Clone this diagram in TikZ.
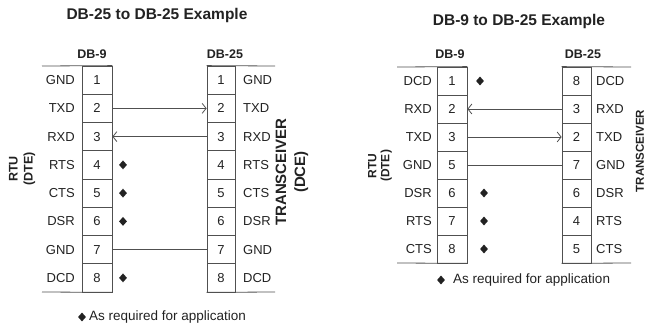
\documentclass[tikz,border=0pt]{standalone}
\usepackage{fontspec}
\setmainfont{Liberation Sans}
\usepackage{xcolor}
\usetikzlibrary{arrows.meta,shapes.geometric}
\definecolor{linegray}{HTML}{505050}
\definecolor{inkgray}{HTML}{222222}
\tikzset{
    pin-cell/.style = {draw=linegray, line width=0.75pt, rectangle, inner sep=0pt, font=\fontsize{13}{15}\selectfont, text=inkgray},
    sig-label/.style = {inner sep=0pt, font=\fontsize{13}{15}\selectfont, text=inkgray},
    plug-title/.style = {inner sep=0pt, font=\bfseries\fontsize{12.5}{14}\selectfont, text=inkgray},
    fig-title/.style = {inner sep=0pt, font=\bfseries\fontsize{15.5}{18}\selectfont, text=inkgray},
    side-label/.style = {inner sep=0pt, rotate=90, align=center, text=inkgray},
    req-diamond/.style = {diamond, fill=inkgray, inner sep=0pt, minimum width=8pt, minimum height=9pt},
    wire/.style = {draw=linegray, line width=0.8pt},
    barb/.style = {wire, -{Straight Barb[length=4pt,width=10pt]}},
}

\begin{document}
\begin{tikzpicture}[x=1pt, y=-1pt]
\useasboundingbox (0,0) rectangle (648,323);

% DB-25 to DB-25
\node[fig-title] (titleA) at (157,15) {DB-25 to DB-25 Example};
\node[plug-title] (hdrAL) at (92,54) {DB-9};
\node[plug-title] (hdrAR) at (225,54) {DB-25};
\foreach \i/\s in {1/GND,2/TXD,3/RXD,4/RTS,5/CTS,6/DSR,7/GND,8/DCD} {
    \node[pin-cell, minimum width=30pt, minimum height=28.25pt] (aL-\i) at (97,{66+28.25*(\i-0.5)}) {\i};
    \node[sig-label, anchor=east] (aLs-\i) at (75,{66+28.25*(\i-0.5)}) {\s};
    \node[pin-cell, minimum width=28pt, minimum height=28.25pt] (aR-\i) at (221,{66+28.25*(\i-0.5)}) {\i};
    \node[sig-label, anchor=west] (aRs-\i) at (243,{66+28.25*(\i-0.5)}) {\s};
}
\coordinate (aL-top) at (42,66);
\coordinate (aL-bot) at (42,292);
\coordinate (aR-top) at (275,66);
\coordinate (aR-bot) at (275,292);
\draw[wire] (aL-top) -- (aL-1.north east);
\draw[wire] (aL-bot) -- (aL-8.south east);
\draw[wire] (aR-1.north west) -- (aR-top);
\draw[wire] (aR-8.south west) -- (aR-bot);

\draw[barb] (aL-2.east) -- (aR-2.west);
\draw[barb] (aR-3.west) -- (aL-3.east);
\draw[wire] (aL-7.east) -- (aR-7.west);

\foreach \i in {4,5,6,8}
    \node[req-diamond] (aD-\i) at (123,{66+28.25*(\i-0.5)}) {};

\node[side-label, font=\bfseries\fontsize{12.5}{15}\selectfont] (aDTE) at (22,169) {RTU\\(DTE)};
\node[side-label, font=\bfseries\fontsize{15}{19}\selectfont] (aDCE) at (292,172) {TRANSCEIVER\\(DCE)};

\node[req-diamond] (aNoteD) at (82,317) {};
\node[sig-label, anchor=west, font=\fontsize{13.5}{15}\selectfont] (aNote) at (89,317) {As required for application};

% DB-9 to DB-25
\node[fig-title] (titleB) at (519,21) {DB-9 to DB-25 Example};
\node[plug-title] (hdrBL) at (450,54) {DB-9};
\node[plug-title] (hdrBR) at (583,54) {DB-25};
\foreach \i/\q/\p/\s in {1/1/8/DCD,2/2/3/RXD,3/3/2/TXD,4/5/7/GND,5/6/6/DSR,6/7/4/RTS,7/8/5/CTS} {
    \node[pin-cell, minimum width=30pt, minimum height=28pt] (bL-\i) at (452,{67+28*(\i-0.5)}) {\q};
    \node[sig-label, anchor=east] (bLs-\i) at (432,{67+28*(\i-0.5)}) {\s};
    \node[pin-cell, minimum width=29pt, minimum height=28pt] (bR-\i) at (576.5,{67+28*(\i-0.5)}) {\p};
    \node[sig-label, anchor=west] (bRs-\i) at (596,{67+28*(\i-0.5)}) {\s};
}
\coordinate (bL-top) at (397,67);
\coordinate (bL-bot) at (397,263);
\coordinate (bR-top) at (631,67);
\coordinate (bR-bot) at (631,263);
\draw[wire] (bL-top) -- (bL-1.north east);
\draw[wire] (bL-bot) -- (bL-7.south east);
\draw[wire] (bR-1.north west) -- (bR-top);
\draw[wire] (bR-7.south west) -- (bR-bot);

\draw[barb] (bR-2.west) -- (bL-2.east);
\draw[barb] (bL-3.east) -- (bR-3.west);
\draw[wire] (bL-4.east) -- (bR-4.west);

\node[req-diamond] (bD-1) at (480,81) {};
\foreach \i in {5,6,7}
    \node[req-diamond] (bD-\i) at (484,{67+28*(\i-0.5)}) {};

\node[side-label, font=\bfseries\fontsize{12}{13}\selectfont] (bDTE) at (380,166) {RTU\\(DTE)};
\node[side-label, font=\bfseries\fontsize{11.5}{13}\selectfont] (bDCE) at (640,151) {TRANSCEIVER};

\node[req-diamond] (bNoteD) at (441,280) {};
\node[sig-label, anchor=west, font=\fontsize{13.5}{15}\selectfont] (bNote) at (453,280) {As required for application};
\end{tikzpicture}
\end{document}
